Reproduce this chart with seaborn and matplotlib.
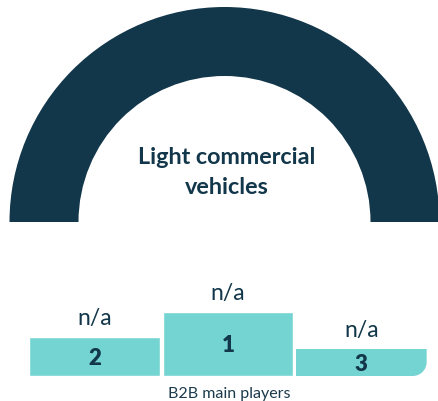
import numpy as np
import pandas as pd
import matplotlib
matplotlib.use("Agg")
import matplotlib.pyplot as plt
from matplotlib.path import Path
from matplotlib.patches import PathPatch
import seaborn as sns

# =========================================
# DATA
# =========================================
title_lines = ["Light commercial", "vehicles"]
gauge_share = [1, 1]                 # top half filled, bottom half empty
podium_ranks = ["2", "1", "3"]
podium_heights = [39, 64, 27]        # podium step heights
podium_labels = ["n/a", "n/a", "n/a"]
footer = "B2B main players"

NAVY = "#12364a"
TEAL = "#74d4d2"
TXT = "#1b3a4b"

sns.set_theme(style="white")
plt.rcParams["font.family"] = ["Lato", "DejaVu Sans"]

W, H = 439, 402
fig = plt.figure(figsize=(W / 100, H / 100), dpi=100)

# =========================================
# HALF DONUT
# =========================================
cx, cy, R = 224.5, H - 223, 215
ax_g = fig.add_axes([(cx - R) / W, (cy - R) / H, 2 * R / W, 2 * R / H])
ax_g.pie(gauge_share, colors=[NAVY, "none"], startangle=0, counterclock=True,
         radius=1, wedgeprops=dict(width=(R - 146) / R, linewidth=0))
ax_g.set_xlim(-1, 1)
ax_g.set_ylim(-1, 1)
ax_g.set_aspect("equal")
ax_g.axis("off")

fig.text(227 / W, 1 - 157 / H, title_lines[0], ha="center", va="center",
         fontsize=16.8, fontweight="bold", color=NAVY)
fig.text(227 / W, 1 - 188 / H, title_lines[1], ha="center", va="center",
         fontsize=16.8, fontweight="bold", color=NAVY)

# =========================================
# PODIUM
# =========================================
x0, x1, yb = 28, 428, H - 377
top = max(podium_heights)
ax_b = fig.add_axes([x0 / W, yb / H, (x1 - x0) / W, top / H])
df = pd.DataFrame({"rank": podium_ranks, "h": podium_heights})
sns.barplot(data=df, x="rank", y="h", order=podium_ranks, color=TEAL,
            saturation=1, width=0.98, ax=ax_b)
ax_b.set_xlim(-0.5, 2.5)
ax_b.set_ylim(0, top)
ax_b.axis("off")

# round bottom-right corner of the last step
p = ax_b.patches[-1]
bx, by, bw, bh = p.get_x(), p.get_y(), p.get_width(), p.get_height()
p.set_visible(False)
px_per_x = (x1 - x0) / 3.0
rx, ry = 14 / px_per_x, 14.0
k = 0.5523
verts = [(bx, by), (bx + bw - rx, by),
         (bx + bw - rx + k * rx, by), (bx + bw, by + ry - k * ry), (bx + bw, by + ry),
         (bx + bw, by + bh), (bx, by + bh), (bx, by)]
codes = [Path.MOVETO, Path.LINETO, Path.CURVE4, Path.CURVE4, Path.CURVE4,
         Path.LINETO, Path.LINETO, Path.CLOSEPOLY]
ax_b.add_patch(PathPatch(Path(verts, codes), facecolor=TEAL, edgecolor="none"))

for i, (r, h, lab) in enumerate(zip(podium_ranks, podium_heights, podium_labels)):
    ax_b.text(i, h / 2 - 1, r, ha="center", va="center", fontsize=16,
              fontweight="heavy", color=NAVY, clip_on=False)
    ax_b.text(i, h + 9, lab, ha="center", va="bottom", fontsize=16.5,
              color=NAVY, clip_on=False)

fig.text(229 / W, 1 - 394 / H, footer, ha="center", va="center",
         fontsize=11.5, color=TXT)

fig.savefig("out.png", dpi=100, facecolor="white")
